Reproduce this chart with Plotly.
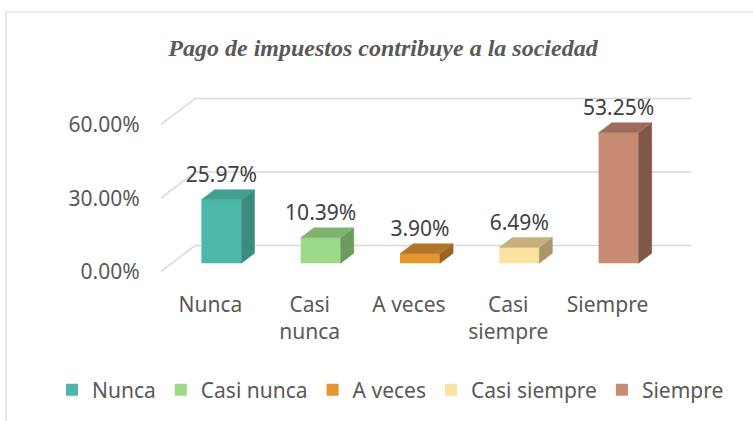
import plotly.graph_objects as go

# ---------------- data ----------------
categories = ["Nunca", "Casi nunca", "A veces", "Casi siempre", "Siempre"]
tick_labels = ["Nunca", "Casi<br>nunca", "A veces", "Casi<br>siempre", "Siempre"]
values = [25.97, 10.39, 3.90, 6.49, 53.25]
value_labels = ["25.97%", "10.39%", "3.90%", "6.49%", "53.25%"]
y_ticks = [0, 30, 60]
y_tick_labels = ["0.00%", "30.00%", "60.00%"]
title_text = "Pago de impuestos contribuye a la sociedad"

front_colors = ["#4BB8A9", "#9CDA8A", "#E5962F", "#FCE2A0", "#C78B74"]
top_colors = ["#41A093", "#7FB470", "#B57526", "#C8B07C", "#9C6D5B"]
side_colors = ["#3B8B80", "#6B9B5E", "#9B6520", "#A99768", "#7F5849"]

# ---------------- geometry (pixels) ----------------
W, H = 753, 421
X_LEFT = 160.7      # front-left corner of floor
Y_BASE = 271.7      # front edge of floor (0 %)
DX, DY = 34.5, 26.3 # full depth offset (right, up)
SX = 99.3           # px per category
SY = 2.45           # px per percent
TOP_PX = 60
D_FRONT, D_BACK = 0.32, 0.70
BAR_W_PX = 40

x_range = [-0.5, 4.5 + DX / SX]
y_range = [0, (Y_BASE - TOP_PX) / SY]
x_dom = [X_LEFT / W, (X_LEFT + (x_range[1] - x_range[0]) * SX) / W]
y_dom = [(H - Y_BASE) / H, (H - TOP_PX) / H]

ddx = DX / SX
ddy = DY / SY
off_x = D_FRONT * ddx
off_y = D_FRONT * ddy
dep_x = (D_BACK - D_FRONT) * ddx
dep_y = (D_BACK - D_FRONT) * ddy
bw = BAR_W_PX / SX

TXT = "#595959"
FONT = "Noto Sans"

fig = go.Figure()

# front faces (real bars)
for i, (cat, v) in enumerate(zip(categories, values)):
    fig.add_trace(go.Bar(
        x=[i + off_x], y=[v], base=[off_y], width=bw,
        marker=dict(color=front_colors[i], line=dict(width=0)),
        name=cat, legendgroup=cat, showlegend=True,
        hovertemplate=cat + ": %{y:.2f}%<extra></extra>",
    ))

# side and top faces
for i, (cat, v) in enumerate(zip(categories, values)):
    xl = i + off_x - bw / 2
    xr = i + off_x + bw / 2
    yb = off_y
    yt = off_y + v
    fig.add_trace(go.Scatter(
        x=[xr, xr + dep_x, xr + dep_x, xr, xr],
        y=[yb, yb + dep_y, yt + dep_y, yt, yb],
        mode="lines", fill="toself", fillcolor=side_colors[i],
        line=dict(width=0.5, color=side_colors[i]),
        showlegend=False, legendgroup=cat, hoverinfo="skip",
    ))
    fig.add_trace(go.Scatter(
        x=[xl, xr, xr + dep_x, xl + dep_x, xl],
        y=[yt, yt, yt + dep_y, yt + dep_y, yt],
        mode="lines", fill="toself", fillcolor=top_colors[i],
        line=dict(width=0.5, color=top_colors[i]),
        showlegend=False, legendgroup=cat, hoverinfo="skip",
    ))

# data labels
fig.add_trace(go.Scatter(
    x=[i + off_x for i in range(len(values))],
    y=[off_y + v + dep_y + 0.9 for v in values],
    mode="text", text=value_labels, textposition="top center",
    textfont=dict(family=FONT, size=21, color="#404040"),
    showlegend=False, hoverinfo="skip", cliponaxis=False,
))

# back wall / floor gridlines as shapes below the bars
shapes = []
for t in y_ticks:
    path = "M {:.4f},{:.4f} L {:.4f},{:.4f} L {:.4f},{:.4f}".format(
        -0.5, t, -0.5 + ddx, t + ddy, 4.5 + ddx, t + ddy)
    shapes.append(dict(type="path", path=path, xref="x", yref="y",
                       line=dict(color="#D9D9D9", width=1.5), layer="below"))
# chart border
shapes.append(dict(type="rect", xref="paper", yref="paper",
                   x0=6 / W, y0=1 - 12 / H, x1=1.05, y1=-0.05,
                   line=dict(color="#D9D9D9", width=1.2), layer="below"))

fig.update_layout(
    width=W, height=H, autosize=False,
    margin=dict(l=0, r=0, t=0, b=0, autoexpand=False),
    paper_bgcolor="white", plot_bgcolor="rgba(0,0,0,0)",
    barmode="overlay",
    shapes=shapes,
    title=dict(text=title_text, x=383 / W, xanchor="center",
               y=1 - 48 / H, yanchor="middle", yref="container",
               font=dict(family="Liberation Serif", size=24, color=TXT,
                         weight="bold", style="italic")),
    xaxis=dict(domain=x_dom, range=x_range, showgrid=False, zeroline=False,
               showline=False, tickmode="array", tickvals=list(range(len(categories))),
               ticktext=tick_labels, ticks="", ticklabelstandoff=18,
               tickfont=dict(family=FONT, size=21, color=TXT), fixedrange=True),
    yaxis=dict(domain=y_dom, range=y_range, showgrid=False, zeroline=False,
               showline=False, tickmode="array", tickvals=y_ticks,
               ticktext=y_tick_labels, ticks="", ticklabelstandoff=20,
               tickfont=dict(family=FONT, size=21, color=TXT), fixedrange=True),
    legend=dict(orientation="h", x=390.5 / W, xanchor="center",
                y=1 - 390 / H, yanchor="middle",
                font=dict(family=FONT, size=21, color=TXT),
                bgcolor="rgba(0,0,0,0)", itemclick=False, itemdoubleclick=False),
    showlegend=True,
)

fig.write_html("out.html", config={"displayModeBar": False},
               post_script="document.body.style.margin='0';document.body.style.overflow='hidden';")
